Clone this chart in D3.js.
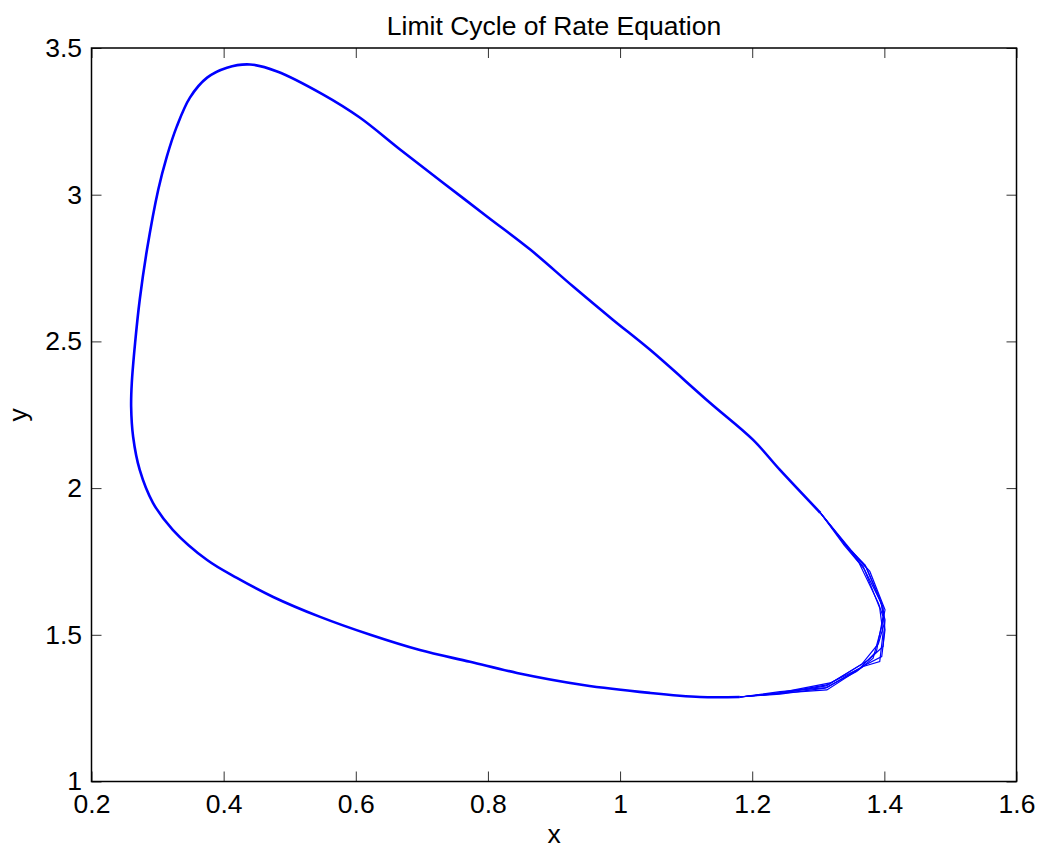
<!DOCTYPE html>
<html>
<head>
<meta charset="utf-8">
<script src="https://cdn.jsdelivr.net/npm/d3@7/dist/d3.min.js"></script>
<style>
  body { margin: 0; background: #fff; }
  text { font-family: "Liberation Sans", Arial, sans-serif; fill: #000; }
  .tick line { stroke: #333; stroke-width: 1; }
</style>
</head>
<body>
<div id="chart"></div>
<script>
// Main part of the cycle, open at the right-hand corner.
const loopX = [1.181, 1.121, 1.045, 0.944, 0.844, 0.773, 0.697, 0.622, 0.546, 0.475,
  0.420, 0.375, 0.323, 0.293, 0.273, 0.263, 0.260, 0.261, 0.266, 0.273, 0.284, 0.301,
  0.314, 0.329, 0.349, 0.375, 0.405, 0.440, 0.481, 0.550, 0.606, 0.667, 0.732, 0.799,
  0.864, 0.929, 0.989, 1.045, 1.136, 1.201, 1.242, 1.303];
const loopY = [1.288, 1.288, 1.302, 1.329, 1.370, 1.408, 1.448, 1.500, 1.561, 1.629,
  1.694, 1.755, 1.858, 1.950, 2.062, 2.175, 2.277, 2.359, 2.495, 2.642, 2.813, 3.017,
  3.130, 3.232, 3.331, 3.399, 3.433, 3.444, 3.420, 3.342, 3.263, 3.154, 3.041, 2.925,
  2.813, 2.687, 2.574, 2.472, 2.291, 2.165, 2.062, 1.916];

// The separate passes through the right-hand corner, where the loops spread out.
const cornerTraces = [
  [[1.181, 1.288], [1.242, 1.301], [1.313, 1.312], [1.368, 1.392], [1.393, 1.409], [1.398, 1.505], [1.393, 1.591], [1.368, 1.733], [1.343, 1.800], [1.303, 1.916]],
  [[1.181, 1.288], [1.242, 1.306], [1.313, 1.320], [1.371, 1.397], [1.396, 1.426], [1.401, 1.517], [1.396, 1.602], [1.371, 1.738], [1.343, 1.802], [1.303, 1.916]],
  [[1.181, 1.288], [1.242, 1.301], [1.315, 1.330], [1.376, 1.414], [1.398, 1.460], [1.401, 1.551], [1.393, 1.625], [1.373, 1.727], [1.345, 1.796], [1.303, 1.916]],
  [[1.181, 1.288], [1.242, 1.303], [1.318, 1.336], [1.363, 1.386], [1.388, 1.443], [1.398, 1.562], [1.391, 1.608], [1.362, 1.744], [1.339, 1.806], [1.303, 1.916]],
  [[1.181, 1.288], [1.242, 1.298], [1.310, 1.318], [1.358, 1.375], [1.383, 1.420], [1.396, 1.528], [1.401, 1.585], [1.378, 1.716], [1.349, 1.790], [1.303, 1.916]],
  [[1.181, 1.288], [1.242, 1.300], [1.312, 1.326], [1.366, 1.400], [1.391, 1.470], [1.400, 1.540], [1.398, 1.596], [1.370, 1.722], [1.344, 1.798], [1.303, 1.916]]
];

const xTicks = [0.2, 0.4, 0.6, 0.8, 1, 1.2, 1.4, 1.6];
const yTicks = [1, 1.5, 2, 2.5, 3, 3.5];

const width = 1045;
const height = 853;
const padL = 91.5, padR = 1016.5, padT = 48, padB = 781.5;

let svg = d3.select('#chart')
  .append('svg')
  .attr('width', width)
  .attr('height', height);

let x = d3.scaleLinear().domain([0.2, 1.6]).range([padL, padR]);
let y = d3.scaleLinear().domain([1, 3.5]).range([padB, padT]);

const fmt = d => String(d);

// Axes with inward ticks on all four sides.
svg.append('g')
  .attr('transform', `translate(0,${padB})`)
  .call(d3.axisBottom(x).tickValues(xTicks).tickFormat(fmt).tickSizeInner(-10).tickSizeOuter(0).tickPadding(13))
  .call(g => g.select('.domain').remove())
  .call(g => g.selectAll('text').style('font-size', '26.5px'));

svg.append('g')
  .attr('transform', `translate(0,${padT})`)
  .call(d3.axisTop(x).tickValues(xTicks).tickFormat('').tickSizeInner(-10).tickSizeOuter(0))
  .call(g => g.select('.domain').remove());

svg.append('g')
  .attr('transform', `translate(${padL},0)`)
  .call(d3.axisLeft(y).tickValues(yTicks).tickFormat(fmt).tickSizeInner(-10).tickSizeOuter(0).tickPadding(9.5))
  .call(g => g.select('.domain').remove())
  .call(g => g.selectAll('text').style('font-size', '26.5px'));

svg.append('g')
  .attr('transform', `translate(${padR},0)`)
  .call(d3.axisRight(y).tickValues(yTicks).tickFormat('').tickSizeInner(-10).tickSizeOuter(0))
  .call(g => g.select('.domain').remove());

let smooth = d3.line()
  .curve(d3.curveCatmullRom.alpha(0.5))
  .x(d => x(d[0]))
  .y(d => y(d[1]));

let line = d3.line()
  .x(d => x(d[0]))
  .y(d => y(d[1]));

let plot = svg.append('g');

plot.append('path')
  .datum(loopX.map((v, i) => [v, loopY[i]]))
  .attr('fill', 'none')
  .attr('stroke', '#0000ff')
  .attr('stroke-width', 2.6)
  .attr('stroke-linejoin', 'round')
  .attr('d', smooth);

plot.selectAll('path.corner')
  .data(cornerTraces)
  .enter()
  .append('path')
    .attr('class', 'corner')
    .attr('fill', 'none')
    .attr('stroke', '#0000ff')
    .attr('stroke-width', 1.2)
    .attr('d', line);

// Box.
svg.append('rect')
  .attr('x', padL)
  .attr('y', padT)
  .attr('width', padR - padL)
  .attr('height', padB - padT)
  .attr('fill', 'none')
  .attr('stroke', '#000')
  .attr('stroke-width', 1.5);

svg.append('text')
  .attr('x', (padL + padR) / 2)
  .attr('y', 35)
  .attr('text-anchor', 'middle')
  .style('font-size', '26.5px')
  .text('Limit Cycle of Rate Equation');

svg.append('text')
  .attr('x', (padL + padR) / 2)
  .attr('y', 843)
  .attr('text-anchor', 'middle')
  .style('font-size', '26.5px')
  .text('x');

svg.append('text')
  .attr('transform', `translate(27,${(padT + padB) / 2}) rotate(-90)`)
  .attr('text-anchor', 'middle')
  .style('font-size', '26.5px')
  .text('y');
</script>
</body>
</html>
